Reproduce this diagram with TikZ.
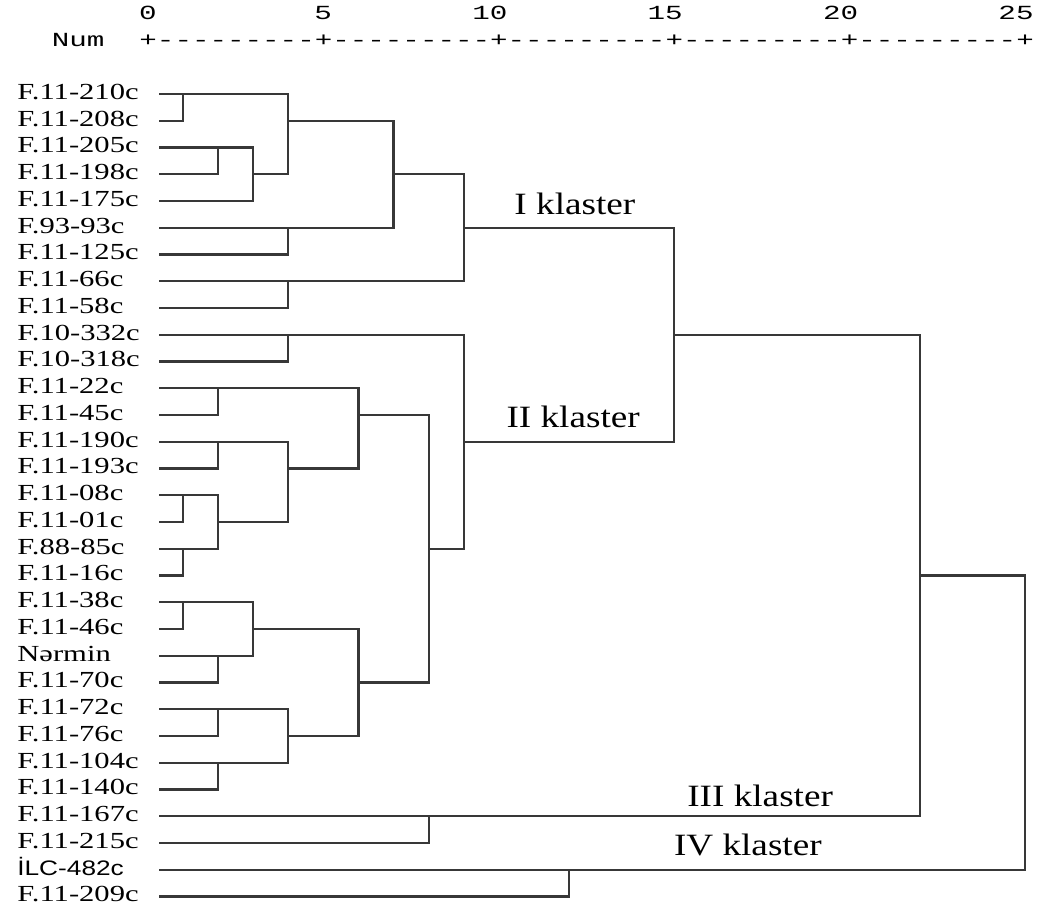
\documentclass[tikz,border=0pt]{standalone}
\usepackage{fontspec}
\newfontfamily\leaffont[FakeStretch=1.33]{Liberation Serif}
\newfontfamily\leafsans[FakeStretch=1.25]{Liberation Sans}
\newfontfamily\klasterfont[FakeStretch=1.2]{Liberation Serif}
\newfontfamily\axisfont[FakeStretch=1.4614,Ligatures=TeXOff]{Liberation Mono}
\newcommand{\sansleaf}[1]{{\leafsans\fontsize{21}{23}\selectfont #1}}
\definecolor{dendline}{RGB}{56,56,56}

\begin{document}
\begin{tikzpicture}[x=35.08pt,y=-26.75pt,
  leaf/.style={anchor=base west,inner sep=0pt,font=\leaffont\fontsize{23}{25}\selectfont},
  klaster/.style={anchor=base,inner sep=0pt,font=\klasterfont\fontsize{31}{34}\selectfont},
  axisnum/.style={anchor=base east,inner sep=0pt,font=\axisfont\fontsize{20}{22}\selectfont},
  branch/.style={draw=dendline,line width=2.2pt}
]
  \useasboundingbox (-4.219,-2.514) rectangle (25.371,31.318);

  % Scale on top
  \foreach \v in {0,5,...,25}
    \node[axisnum] (s\v) at (\v+0.25,-1.77) {\v};
  \node[axisnum,anchor=base west] (num) at (-2.749,-0.77) {Num};
  \node[axisnum,anchor=base west] (scale) at (-0.25,-0.77)
    {+---------+---------+---------+---------+---------+};

  % Leaf labels and leaf line ends
  \foreach \name [count=\i] in {F.11-210c,F.11-208c,F.11-205c,F.11-198c,F.11-175c,
    F.93-93c,F.11-125c,F.11-66c,F.11-58c,F.10-332c,F.10-318c,F.11-22c,F.11-45c,
    F.11-190c,F.11-193c,F.11-08c,F.11-01c,F.88-85c,F.11-16c,F.11-38c,F.11-46c,
    Nərmin,F.11-70c,F.11-72c,F.11-76c,F.11-104c,F.11-140c,F.11-167c,F.11-215c,
    \sansleaf{İLC-482c},F.11-209c}
  {
    \node[leaf] (n\i) at (-3.73,\i+0.2) {\name};
    \coordinate (l\i) at (0.32,\i);
  }

  % Merges: name / height / row / upper child / lower child
  \foreach \m/\x/\r/\a/\b in {m1/1/1/l1/l2, m2/2/3/l3/l4, m3/3/4/m2/l5,
    m4/4/2/m1/m3, m5/4/6/l6/l7, m6/7/4/m4/m5, m7/4/8/l8/l9, m8/9/6/m6/m7,
    m9/4/10/l10/l11, m10/2/12/l12/l13, m11/2/14/l14/l15, m12/1/16/l16/l17,
    m13/1/18/l18/l19, m14/2/17/m12/m13, m15/4/15/m11/m14, m16/6/13/m10/m15,
    m17/1/20/l20/l21, m18/2/22/l22/l23, m19/3/21/m17/m18, m20/2/24/l24/l25,
    m21/2/26/l26/l27, m22/4/25/m20/m21, m23/6/23/m19/m22, m24/8/18/m16/m23,
    m25/9/14/m9/m24, m26/15/10/m8/m25, m27/8/28/l28/l29, m28/22/19/m26/m27,
    m29/12/30/l30/l31, m30/25/30/m28/m29}
  {
    \coordinate (\m) at (\x,\r);
    \draw[branch] (\a) -| (\m) |- (\b);
  }

  % Cluster names
  \node[klaster] (k1) at (12.17,5.50) {I klaster};
  \node[klaster] (k2) at (12.12,13.46) {II klaster};
  \node[klaster] (k3) at (17.45,27.62) {III klaster};
  \node[klaster] (k4) at (17.10,29.45) {IV klaster};
\end{tikzpicture}
\end{document}
